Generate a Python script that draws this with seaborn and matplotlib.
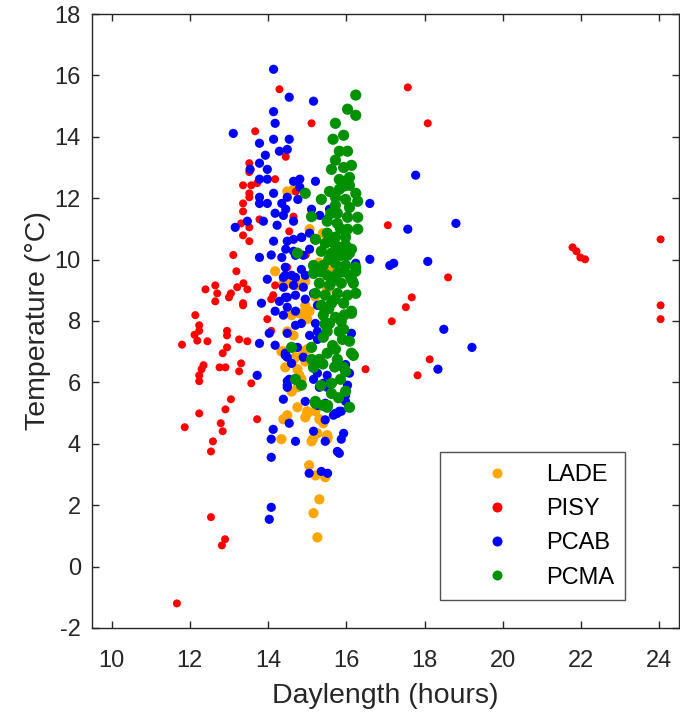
import matplotlib
matplotlib.use("Agg")
import matplotlib.pyplot as plt
import seaborn as sns
import pandas as pd
from matplotlib.lines import Line2D

species = ["LADE", "PISY", "PCAB", "PCMA"]
colors = {"LADE": "#FFA500", "PISY": "#FF0000", "PCAB": "#0000FF", "PCMA": "#009000"}

lade = [(14.49,12.22),(15.06,10.99),(15.40,10.86),(14.18,9.62),(14.54,9.23),(14.75,9.16),(14.95,9.29),
        (14.39,9.23),(14.65,9.29),(14.80,9.23),(14.60,8.19),(14.80,8.25),(15.0,8.06),(14.90,8.19),
        (14.95,8.51),(15.06,8.32),(14.49,7.66),(14.65,7.53),(14.34,7.01),(14.70,6.82),(14.95,6.68),
        (14.39,7.01),(14.65,6.75),(14.44,6.49),(14.90,7.01),(15.0,7.08),(14.75,6.43),(14.80,6.23),
        (14.85,6.10),(14.75,5.84),(14.75,5.19),(15.0,4.99),(15.21,5.06),(15.31,4.80),(15.41,4.67),
        (15.26,4.34),(15.51,4.28),(15.11,4.08),(15.51,4.15),(14.39,4.80),(14.49,4.93),(14.60,5.70),
        (14.34,4.15),(14.95,4.86),(15.0,5.06),(15.14,4.15),(15.52,4.21),(15.05,3.30),(15.21,2.97),
        (15.46,2.91),(15.31,2.19),(15.16,1.74),(15.26,0.95),(15.30,9.90),(15.50,9.00),(15.20,8.80),
        (15.62,9.66),(14.64,12.27)]

pisy = [(14.29,15.55),(15.11,14.44),(13.67,14.18),(14.45,13.35),(13.52,13.14),(13.52,12.85),(13.36,12.42),
        (13.57,12.42),(13.72,12.49),(14.18,12.62),(13.52,12.16),(13.52,12.03),(14.71,12.22),(13.36,11.83),
        (13.36,11.57),(14.65,11.40),(13.78,11.31),(13.31,11.18),(13.52,11.05),(13.36,10.79),(13.52,10.60),
        (14.54,10.92),(13.11,10.15),(14.96,10.15),(14.49,9.75),(13.19,9.62),(14.18,9.16),(12.65,9.16),
        (12.40,9.03),(12.70,8.90),(12.65,8.64),(13.37,9.23),(13.21,9.10),(13.47,9.03),(13.05,8.90),
        (13.0,8.77),(13.36,8.58),(13.36,8.51),(14.13,8.84),(14.08,8.71),(12.14,8.19),(12.24,7.86),
        (12.24,7.68),(12.12,7.55),(12.19,7.36),(12.45,7.34),(12.95,7.68),(12.95,7.53),(13.26,7.40),
        (13.47,7.34),(11.80,7.23),(12.95,7.14),(12.84,6.95),(13.98,8.06),(14.08,7.68),(12.35,6.56),
        (12.30,6.43),(12.24,6.23),(12.24,6.04),(12.76,6.49),(12.91,6.49),(13.31,6.62),(13.26,6.36),
        (13.57,5.97),(13.05,5.45),(12.91,5.12),(12.24,4.99),(13.72,4.80),(12.79,4.67),(11.87,4.54),
        (12.84,4.41),(12.59,4.08),(12.54,3.75),(12.54,1.61),(12.90,0.89),(12.82,0.69),(11.67,-1.20),
        (17.57,15.61),(18.08,14.44),(17.06,11.12),(21.78,10.40),(21.88,10.27),(21.98,10.07),(22.10,10.01),
        (24.03,10.66),(24.03,8.51),(24.03,8.06),(16.23,9.88),(18.60,9.42),(17.67,8.77),(17.52,8.45),
        (17.16,7.99),(18.13,6.75),(16.49,6.43),(17.82,6.23)]

pcab = [(14.14,16.20),(14.54,15.29),(15.16,15.16),(14.14,14.82),(14.18,14.44),(13.11,14.11),(13.78,13.79),
        (14.14,13.92),(14.54,13.92),(14.29,13.53),(14.49,13.59),(13.93,13.40),(13.78,13.14),(13.54,12.94),
        (13.98,12.94),(13.78,12.62),(13.98,12.62),(14.65,12.55),(14.81,12.62),(15.21,12.55),(14.81,12.36),
        (14.14,12.16),(13.78,12.03),(13.78,11.83),(13.98,11.83),(14.49,12.03),(14.76,11.96),(14.35,11.83),
        (15.11,11.64),(15.32,11.44),(14.18,11.51),(14.39,11.44),(14.45,11.64),(14.65,11.25),(13.88,11.25),
        (13.47,11.25),(13.16,11.05),(14.23,11.12),(14.14,10.60),(14.86,10.72),(15.06,10.86),(14.49,10.60),
        (14.65,10.66),(13.78,10.07),(14.08,10.15),(14.35,10.07),(14.45,10.34),(14.65,10.27),(15.06,10.34),
        (15.51,11.31),(15.57,11.64),(14.85,10.73),(13.98,9.36),(14.39,9.42),(14.60,9.49),(14.29,8.64),
        (14.49,8.77),(14.18,8.32),(14.39,8.19),(13.83,8.58),(14.03,7.60),(13.78,7.27),(14.18,7.21),
        (14.49,7.60),(14.44,6.95),(14.49,6.82),(14.54,6.10),(14.49,5.91),(13.72,6.23),(14.70,10.14),
        (14.90,10.14),(14.44,9.75),(14.85,9.68),(14.44,9.49),(14.70,9.42),(14.95,9.49),(15.16,9.55),
        (14.39,9.10),(14.65,9.16),(14.90,9.10),(14.44,8.77),(14.70,8.84),(14.95,8.71),(15.16,8.90),
        (14.49,8.45),(14.70,8.32),(15.26,8.51),(14.70,7.86),(14.85,7.92),(15.21,7.92),(15.26,7.66),
        (15.06,7.53),(15.26,7.40),(14.75,7.14),(14.44,6.88),(14.60,6.62),(14.90,6.82),(15.26,6.30),
        (15.51,6.23),(15.16,6.10),(15.41,5.97),(15.31,5.84),(15.51,5.84),(14.49,6.04),(14.49,5.84),
        (16.03,5.91),(15.98,5.58),(15.98,5.38),(14.95,5.38),(15.26,5.25),(15.46,5.32),(14.39,5.45),
        (15.77,4.99),(15.67,4.93),(15.87,5.06),(16.13,7.60),(16.08,7.40),(16.24,9.88),(16.18,9.30),
        (14.13,4.47),(14.08,4.15),(14.08,3.56),(14.70,4.08),(14.54,4.67),(15.16,4.41),(15.46,4.08),
        (15.46,4.78),(15.72,4.99),(15.82,5.06),(15.93,4.34),(15.87,4.15),(15.77,3.75),(15.82,3.69),
        (15.05,3.04),(15.36,3.10),(15.52,3.04),(14.08,1.93),(14.03,1.54),(15.98,6.58),(16.08,6.30),
        (17.77,12.75),(16.60,11.83),(17.57,10.99),(18.80,11.18),(16.60,10.01),(17.11,9.81),(17.21,9.88),
        (18.08,9.94),(18.49,7.73),(19.21,7.14),(18.34,6.43)]

pcma = [(16.24,15.36),(16.03,14.90),(16.24,14.70),(15.72,14.44),(15.66,13.92),(15.93,14.05),(15.82,13.53),
        (16.03,13.53),(15.72,13.24),(15.62,12.94),(15.93,13.00),(16.13,13.07),(15.82,12.61),(16.08,12.68),
        (16.08,12.42),(15.57,12.22),(15.82,12.29),(16.24,12.16),(14.95,12.16),(15.36,11.96),(15.72,12.03),
        (15.98,11.96),(16.29,11.90),(15.72,11.77),(16.08,11.70),(15.77,11.51),(16.29,11.38),(16.03,11.38),
        (15.11,11.40),(15.51,11.25),(15.77,11.18),(16.03,10.99),(16.29,10.99),(15.51,10.86),(15.72,10.73),
        (15.98,10.73),(15.21,10.66),(15.46,10.53),(15.72,10.47),(15.98,10.47),(16.13,10.34),(14.75,10.21),
        (15.36,10.27),(15.72,10.21),(16.03,10.14),(15.62,10.21),(15.87,10.14),(16.08,10.21),(15.16,9.81),
        (15.41,9.81),(15.72,9.88),(15.98,9.81),(16.24,9.75),(15.16,9.55),(15.51,9.49),(15.77,9.55),
        (16.08,9.49),(15.31,9.23),(15.57,9.16),(15.87,9.23),(16.18,9.23),(15.21,8.90),(15.46,8.84),
        (15.77,8.90),(16.03,8.84),(16.24,8.90),(15.36,8.51),(15.62,8.58),(15.93,8.58),(16.13,8.32),
        (15.41,8.19),(15.72,8.12),(15.57,7.92),(15.87,7.99),(15.51,7.66),(15.82,7.66),(15.41,7.47),
        (16.08,7.34),(15.11,7.14),(14.60,7.14),(15.72,7.08),(15.51,6.95),(16.13,6.95),(16.18,6.88),
        (15.11,6.75),(15.31,6.75),(15.77,6.75),(15.16,6.49),(15.93,6.49),(15.98,6.36),(14.70,6.10),
        (14.85,5.91),(15.62,5.97),(15.98,5.71),(15.62,5.64),(15.21,5.38),(15.41,5.25),(16.08,5.19),
        (15.51,5.19),(15.21,5.32),(15.52,5.25),(16.24,9.62),(16.13,9.36),(16.13,8.25),(15.93,7.73),
        (15.60,10.60),(15.85,10.40),(15.90,9.60),(15.65,9.30),(15.70,8.70),(15.95,8.20),(15.55,8.40),
        (15.90,7.40),(15.65,7.20),(15.40,6.60),(15.85,6.10),(15.70,6.50),(15.35,5.90),(15.80,5.50),
        (15.45,7.90),(15.35,9.60),(15.55,10.00),(15.85,11.00),(15.60,11.50),(15.95,12.40)]

groups = {"LADE": lade, "PISY": pisy, "PCAB": pcab, "PCMA": pcma}
marker_px = {"LADE": 10.2, "PISY": 8.0, "PCAB": 9.2, "PCMA": 11.2}

x_ticks = [10, 12, 14, 16, 18, 20, 22, 24]
y_ticks = [-2, 0, 2, 4, 6, 8, 10, 12, 14, 16, 18]

sns.set_theme(style="white")
plt.rcParams["font.family"] = ["Liberation Sans", "DejaVu Sans"]
plt.rcParams["axes.unicode_minus"] = False

fig = plt.figure(figsize=(6.8, 7.19), dpi=100)
ax = fig.add_axes([0.1353, 0.1266, 0.8632, 0.8539])

for sp in species:
    df = pd.DataFrame(groups[sp], columns=["Daylength", "Temperature"])
    d_pt = marker_px[sp] * 0.72
    sns.scatterplot(data=df, x="Daylength", y="Temperature", ax=ax, color=colors[sp],
                    s=d_pt ** 2, linewidth=0, edgecolor="none", alpha=1.0, legend=False)

ax.set_xlim(9.5, 24.5)
ax.set_ylim(-2, 18)
ax.set_xticks(x_ticks)
ax.set_yticks(y_ticks)
axis_col = "#262626"
ax.tick_params(direction="in", length=5, width=1, colors=axis_col, labelsize=17,
               top=True, right=True, bottom=True, left=True)
ax.tick_params(axis="y", pad=8)
ax.tick_params(axis="x", pad=16)
for sp_ in ax.spines.values():
    sp_.set_color(axis_col)
    sp_.set_linewidth(1.0)
ax.set_xlabel("Daylength (hours)", fontsize=20.5, color=axis_col, labelpad=8)
ax.set_ylabel("Temperature (°C)", fontsize=20.5, color=axis_col, labelpad=2.5)

handles = [Line2D([0], [0], marker="o", linestyle="none", markersize=10 * 0.72,
                  markerfacecolor=colors[sp], markeredgecolor="none") for sp in species]
leg = ax.legend(handles, species, loc="lower left", bbox_to_anchor=(0.593, 0.0456),
                fontsize=17, frameon=True, fancybox=False, handlelength=3.9,
                handletextpad=0.1, labelspacing=0.52, borderpad=0.48, borderaxespad=0)
leg.get_frame().set_edgecolor(axis_col)
leg.get_frame().set_linewidth(1.0)
for t in leg.get_texts():
    t.set_color("#000000")

fig.savefig("out.png", dpi=100)
